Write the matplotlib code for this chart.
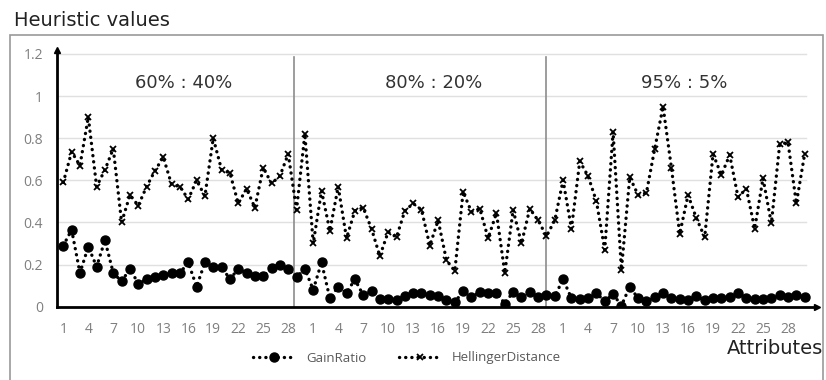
import numpy as np
import matplotlib
matplotlib.use("Agg")
import matplotlib.pyplot as plt
from matplotlib.patches import Rectangle

# attributes 1..30, repeated for the three split ratios
attr_labels = [str(i) for i in range(1, 31)]
panel_titles = ["60% : 40%", "80% : 20%", "95% : 5%"]

gain_6040 = [0.29, 0.365, 0.16, 0.285, 0.19, 0.315, 0.16, 0.12, 0.18, 0.11,
             0.13, 0.14, 0.15, 0.16, 0.16, 0.21, 0.095, 0.21, 0.19, 0.19,
             0.13, 0.18, 0.16, 0.145, 0.145, 0.185, 0.20, 0.18, 0.14, 0.18]
gain_8020 = [0.08, 0.21, 0.04, 0.095, 0.065, 0.13, 0.055, 0.075, 0.035, 0.035,
             0.03, 0.05, 0.065, 0.065, 0.055, 0.05, 0.03, 0.02, 0.075, 0.045,
             0.07, 0.065, 0.065, 0.015, 0.07, 0.045, 0.07, 0.045, 0.055, 0.05]
gain_9505 = [0.13, 0.04, 0.035, 0.04, 0.065, 0.025, 0.06, 0.005, 0.095, 0.04,
             0.025, 0.045, 0.065, 0.04, 0.035, 0.03, 0.05, 0.03, 0.04, 0.04,
             0.045, 0.065, 0.04, 0.035, 0.035, 0.04, 0.055, 0.045, 0.055, 0.045]

hell_6040 = [0.59, 0.735, 0.67, 0.90, 0.57, 0.65, 0.75, 0.40, 0.53, 0.48,
             0.57, 0.645, 0.71, 0.58, 0.57, 0.51, 0.60, 0.525, 0.80, 0.65,
             0.635, 0.49, 0.56, 0.47, 0.66, 0.585, 0.62, 0.725, 0.46, 0.82]
hell_8020 = [0.30, 0.55, 0.36, 0.57, 0.325, 0.455, 0.47, 0.37, 0.24, 0.355,
             0.33, 0.455, 0.49, 0.46, 0.29, 0.41, 0.22, 0.17, 0.545, 0.45,
             0.465, 0.325, 0.445, 0.16, 0.46, 0.30, 0.465, 0.41, 0.335, 0.41]
hell_9505 = [0.60, 0.37, 0.69, 0.62, 0.50, 0.27, 0.83, 0.175, 0.615, 0.53,
             0.54, 0.75, 0.95, 0.66, 0.345, 0.53, 0.42, 0.33, 0.725, 0.625,
             0.72, 0.52, 0.56, 0.37, 0.61, 0.395, 0.77, 0.78, 0.49, 0.725]

gain = gain_6040 + gain_8020 + gain_9505
hell = hell_6040 + hell_8020 + hell_9505
x = np.arange(1, len(gain) + 1)

W, H = 826, 380
fig = plt.figure(figsize=(W / 100, H / 100), dpi=100)

# axes placed in pixel terms of the reference
left_px, right_px, top_px, bottom_px = 57, 817, 50, 306.7
ax = fig.add_axes([left_px / W, 1 - bottom_px / H,
                   (right_px - left_px) / W, (bottom_px - top_px) / H])
px_per_attr = 8.33
ax.set_xlim(1 - (63.3 - left_px) / px_per_attr, 1 + (right_px - 63.3) / px_per_attr)
ax.set_ylim(0, (bottom_px - top_px) / 210.7)

# horizontal grid
for yv in np.arange(0.2, 1.21, 0.2):
    ax.plot([ax.get_xlim()[0], 90.2], [yv, yv], color="#e0e0e0", lw=1.0, zorder=0)

# separators between split ratios
for xs in [28.7, 58.9]:
    ax.plot([xs, xs], [0, 1.185], color="#8c8c8c", lw=1.2, zorder=1)

dots = (0, (0.05, 1.8))
ax.plot(x, gain, color="black", lw=2.4, linestyle=dots, dash_capstyle="round",
        marker="o", markersize=6.5, label="GainRatio", zorder=3)
ax.plot(x, hell, color="black", lw=2.4, linestyle=dots, dash_capstyle="round",
        marker="x", markersize=5, markeredgewidth=1.3, label="HellingerDistance", zorder=3)

for i, t in enumerate(panel_titles):
    ax.text(15.5 + 30 * i, 1.06, t, ha="center", va="center", fontsize=13,
            color="#333333", family="DejaVu Sans")

tick_pos = [p + 30 * k for k in range(3) for p in range(1, 31, 3)]
ax.set_xticks(tick_pos)
ax.set_xticklabels([attr_labels[(p - 1) % 30] for p in tick_pos])
ax.set_yticks(np.arange(0, 1.21, 0.2))
ax.set_yticklabels(["0", "0.2", "0.4", "0.6", "0.8", "1", "1.2"])
ax.tick_params(length=0, labelsize=10, labelcolor="#7f7f7f")
ax.tick_params(axis="x", pad=11)
ax.tick_params(axis="y", pad=10)
for lab in ax.get_xticklabels() + ax.get_yticklabels():
    lab.set_family("Open Sans")

for s in ["top", "right"]:
    ax.spines[s].set_visible(False)
for s in ["left", "bottom"]:
    ax.spines[s].set_linewidth(2)
    ax.spines[s].set_color("black")
ax.plot(1, 0, ">k", transform=ax.transAxes, clip_on=False, markersize=5)
ax.plot(0, 1, "^k", transform=ax.transAxes, clip_on=False, markersize=5)

fig.text(14 / W, 1 - 21 / H, "Heuristic values", fontsize=14, color="#222222",
         va="center", ha="left", family="DejaVu Sans")
fig.text(823 / W, 1 - 348 / H, "Attributes", fontsize=14, color="#222222",
         va="center", ha="right", family="DejaVu Sans")

fig.add_artist(Rectangle((10 / W, -0.05), (823 - 10) / W, 1.05 - 35 / H,
                         transform=fig.transFigure, fill=False,
                         edgecolor="#999999", lw=1.2))

leg = fig.legend(loc="center", bbox_to_anchor=(407 / W, 1 - 358 / H), ncol=2,
                 frameon=False, handlelength=3.2, columnspacing=2.5,
                 prop={"family": "Open Sans", "size": 9.5})
for t in leg.get_texts():
    t.set_color("#595959")

fig.savefig("out.png", dpi=100)
